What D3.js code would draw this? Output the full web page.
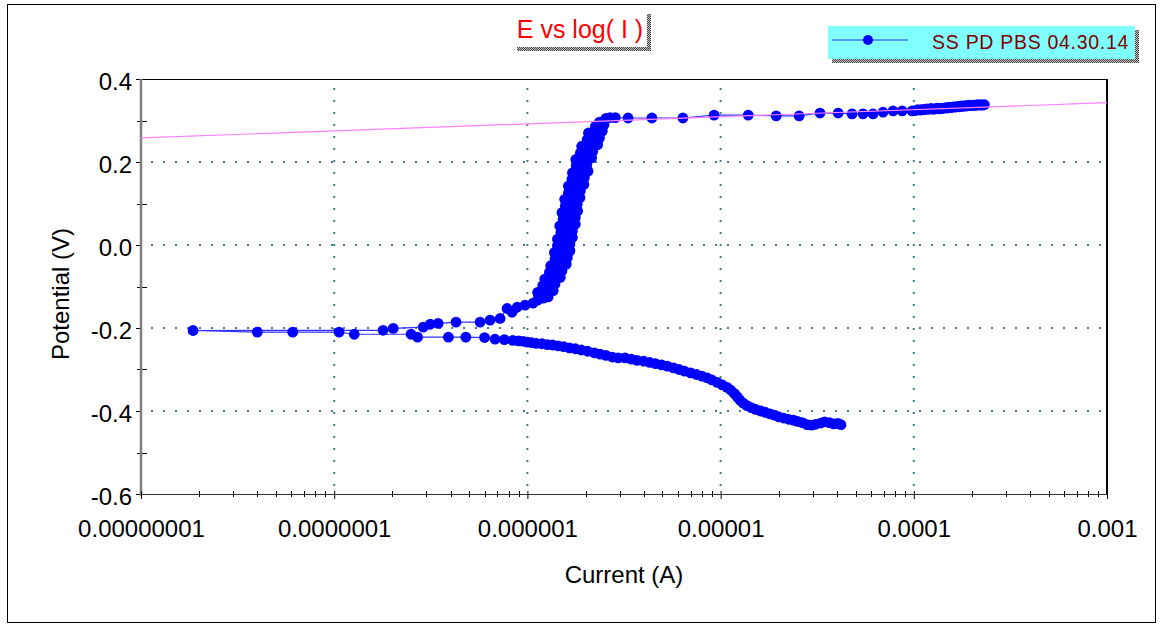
<!DOCTYPE html>
<html>
<head>
<meta charset="utf-8">
<script src="https://cdn.jsdelivr.net/npm/d3@7"></script>
<style>
  body { margin: 0; background: #fff; }
  svg { display: block; }
  text { font-family: Arial, "Liberation Sans", sans-serif; }
</style>
</head>
<body>
<svg id="chart" width="1160" height="627"></svg>
<script>
// ---- Potentiodynamic scan: cathodic branch (start of scan, high current down to Ecorr) ----
const cathodicCurrent = [
  4.20e-5, 4.05e-5, 3.85e-5, 3.65e-5, 3.45e-5, 3.30e-5, 3.10e-5, 2.95e-5, 2.80e-5, 2.65e-5,
  2.50e-5, 2.38e-5, 2.25e-5, 2.12e-5, 2.00e-5, 1.90e-5, 1.80e-5, 1.70e-5, 1.61e-5, 1.52e-5,
  1.44e-5, 1.37e-5, 1.31e-5, 1.26e-5, 1.22e-5, 1.18e-5, 1.13e-5, 1.08e-5, 1.02e-5, 9.6e-6,
  9.0e-6, 8.5e-6, 8.0e-6, 7.5e-6, 7.0e-6, 6.5e-6, 6.1e-6, 5.7e-6, 5.3e-6, 4.95e-6,
  4.6e-6, 4.3e-6, 4.0e-6, 3.7e-6, 3.45e-6, 3.2e-6, 2.95e-6, 2.75e-6, 2.55e-6, 2.38e-6,
  2.22e-6, 2.05e-6, 1.90e-6, 1.77e-6, 1.65e-6, 1.54e-6, 1.44e-6, 1.35e-6, 1.27e-6, 1.19e-6,
  1.11e-6, 1.05e-6, 1.00e-6, 9.5e-7, 9.0e-7, 8.4e-7, 7.6e-7, 6.8e-7, 6.0e-7, 4.8e-7,
  3.9e-7, 2.7e-7, 2.5e-7, 1.27e-7, 1.06e-7, 6.1e-8, 4.0e-8, 1.86e-8
];
const cathodicPotential = [
  -0.433, -0.430, -0.431, -0.428, -0.426, -0.429, -0.432, -0.434, -0.433, -0.428,
  -0.425, -0.422, -0.420, -0.417, -0.414, -0.410, -0.407, -0.403, -0.400, -0.396,
  -0.392, -0.387, -0.381, -0.374, -0.366, -0.358, -0.350, -0.343, -0.337, -0.331,
  -0.325, -0.320, -0.316, -0.312, -0.308, -0.304, -0.300, -0.296, -0.292, -0.289,
  -0.286, -0.283, -0.280, -0.278, -0.275, -0.272, -0.272, -0.270, -0.266, -0.263,
  -0.260, -0.256, -0.253, -0.250, -0.248, -0.245, -0.243, -0.241, -0.240, -0.238,
  -0.237, -0.235, -0.234, -0.232, -0.231, -0.230, -0.228, -0.227, -0.223, -0.222,
  -0.222, -0.222, -0.215, -0.215, -0.210, -0.210, -0.210, -0.206
];

// ---- Anodic branch near Ecorr ----
const anodicLowCurrent = [
  1.79e-7, 2.02e-7, 2.89e-7, 3.14e-7, 3.45e-7, 4.27e-7, 5.69e-7, 6.41e-7, 7.22e-7, 7.85e-7,
  8.33e-7, 8.85e-7, 9.73e-7, 1.07e-6, 1.13e-6, 1.21e-6
];
const anodicLowPotential = [
  -0.2055, -0.201, -0.198, -0.191, -0.189, -0.186, -0.186, -0.181, -0.177, -0.153,
  -0.162, -0.150, -0.145, -0.140, -0.133, -0.128
];

// ---- Anodic rise up to the breakdown potential ----
const anodicRiseCurrent = [
  1.28e-6, 1.14e-6, 1.24e-6, 1.13e-6, 1.36e-6, 1.22e-6, 1.32e-6, 1.20e-6, 1.39e-6, 1.24e-6,
  1.36e-6, 1.23e-6, 1.48e-6, 1.34e-6, 1.45e-6, 1.30e-6, 1.51e-6, 1.34e-6, 1.47e-6, 1.32e-6,
  1.59e-6, 1.43e-6, 1.54e-6, 1.39e-6, 1.61e-6, 1.41e-6, 1.54e-6, 1.38e-6, 1.66e-6, 1.48e-6,
  1.60e-6, 1.43e-6, 1.66e-6, 1.46e-6, 1.59e-6, 1.43e-6, 1.71e-6, 1.53e-6, 1.65e-6, 1.49e-6,
  1.71e-6, 1.51e-6, 1.65e-6, 1.47e-6, 1.77e-6, 1.58e-6, 1.71e-6, 1.53e-6, 1.77e-6, 1.55e-6,
  1.69e-6, 1.51e-6, 1.82e-6, 1.63e-6, 1.75e-6, 1.57e-6, 1.81e-6, 1.60e-6, 1.74e-6, 1.56e-6,
  1.87e-6, 1.68e-6, 1.81e-6, 1.63e-6, 1.88e-6, 1.66e-6, 1.82e-6, 1.63e-6, 1.96e-6, 1.76e-6,
  1.89e-6, 1.70e-6, 1.97e-6, 1.75e-6, 1.91e-6, 1.71e-6, 2.06e-6, 1.84e-6, 2.00e-6, 1.79e-6,
  2.03e-6, 1.80e-6, 1.98e-6, 1.78e-6, 2.15e-6, 1.93e-6, 2.09e-6, 1.88e-6, 2.18e-6, 1.94e-6,
  2.12e-6, 1.91e-6, 2.31e-6, 2.08e-6, 2.26e-6, 2.04e-6, 2.36e-6, 2.11e-6, 2.31e-6, 2.07e-6,
  2.44e-6, 2.25e-6, 2.44e-6, 2.25e-6, 2.49e-6, 2.36e-6, 2.53e-6, 2.55e-6, 2.68e-6, 2.85e-6
];
const anodicRisePotential = [
  -0.125, -0.121, -0.118, -0.114, -0.110, -0.106, -0.102, -0.098, -0.094, -0.090,
  -0.086, -0.082, -0.078, -0.074, -0.070, -0.066, -0.062, -0.058, -0.054, -0.050,
  -0.046, -0.042, -0.038, -0.034, -0.030, -0.026, -0.022, -0.018, -0.014, -0.010,
  -0.006, -0.002, 0.002, 0.006, 0.010, 0.014, 0.018, 0.022, 0.026, 0.030,
  0.034, 0.038, 0.042, 0.046, 0.050, 0.054, 0.058, 0.062, 0.066, 0.070,
  0.074, 0.078, 0.082, 0.086, 0.090, 0.094, 0.098, 0.102, 0.106, 0.110,
  0.114, 0.118, 0.122, 0.126, 0.130, 0.134, 0.138, 0.142, 0.146, 0.150,
  0.154, 0.158, 0.162, 0.166, 0.170, 0.174, 0.178, 0.182, 0.186, 0.190,
  0.194, 0.198, 0.202, 0.206, 0.210, 0.214, 0.218, 0.222, 0.226, 0.230,
  0.234, 0.238, 0.242, 0.246, 0.250, 0.254, 0.258, 0.262, 0.266, 0.270,
  0.274, 0.278, 0.282, 0.286, 0.290, 0.296, 0.302, 0.305, 0.307, 0.307
];

// ---- Pitting plateau above the breakdown potential ----
const plateauCurrent = [
  3.32e-6, 4.41e-6, 6.38e-6, 9.25e-6, 1.39e-5, 1.94e-5, 2.55e-5, 3.27e-5, 4.06e-5, 4.79e-5,
  5.46e-5, 6.15e-5, 6.93e-5, 7.81e-5, 8.71e-5, 9.80e-5, 1.02e-4, 1.05e-4, 1.08e-4, 1.11e-4,
  1.14e-4, 1.17e-4, 1.20e-4, 1.23e-4, 1.26e-4, 1.29e-4, 1.32e-4, 1.36e-4, 1.39e-4, 1.42e-4,
  1.46e-4, 1.49e-4, 1.53e-4, 1.56e-4, 1.60e-4, 1.64e-4, 1.68e-4, 1.72e-4, 1.76e-4, 1.80e-4,
  1.84e-4, 1.88e-4, 1.93e-4, 1.97e-4, 2.02e-4, 2.07e-4, 2.12e-4, 2.17e-4, 2.22e-4, 2.27e-4,
  2.32e-4
];
const plateauPotential = [
  0.306, 0.306, 0.306, 0.313, 0.313, 0.311, 0.311, 0.318, 0.318, 0.316,
  0.316, 0.316, 0.320, 0.323, 0.323, 0.323, 0.324, 0.326, 0.325, 0.327,
  0.326, 0.328, 0.327, 0.329, 0.327, 0.328, 0.330, 0.328, 0.330, 0.329,
  0.331, 0.330, 0.332, 0.331, 0.333, 0.332, 0.334, 0.333, 0.335, 0.334,
  0.336, 0.335, 0.337, 0.336, 0.337, 0.336, 0.338, 0.337, 0.338, 0.337,
  0.338
];

// ---- Tafel fit line ----
const fitCurrent = [1e-8, 1e-3];
const fitPotential = [0.258, 0.343];

// ---- Axis ticks and labels ----
const potentialTicks = [-0.6, -0.4, -0.2, 0.0, 0.2, 0.4];
const potentialMinorTicks = [-0.5, -0.3, -0.1, 0.1, 0.3];
const potentialGrid = [-0.4, -0.2, 0.0, 0.2];
const currentTicks = [1e-8, 1e-7, 1e-6, 1e-5, 1e-4, 1e-3];
const currentTickLabels = ["0.00000001", "0.0000001", "0.000001", "0.00001", "0.0001", "0.001"];
const currentGrid = [1e-7, 1e-6, 1e-5, 1e-4];
const minorMultipliers = [2, 3, 4, 5, 6, 7, 8, 9];

const chartTitle = "E vs log( I )";
const seriesName = "SS PD PBS 04.30.14";
const xAxisTitle = "Current (A)";
const yAxisTitle = "Potential (V)";

// ---- Build the series ----
const scanCurrent = [].concat(cathodicCurrent, anodicLowCurrent, anodicRiseCurrent, plateauCurrent);
const scanPotential = [].concat(cathodicPotential, anodicLowPotential, anodicRisePotential, plateauPotential);
const scan = scanCurrent.map((c, i) => ({ current: c, potential: scanPotential[i] }));
const fit = fitCurrent.map((c, i) => ({ current: c, potential: fitPotential[i] }));

const svg = d3.select("#chart");
const plot = { left: 141, right: 1107, top: 79, bottom: 494 };

const x = d3.scaleLog().domain([1e-8, 1e-3]).range([plot.left, plot.right]);
const y = d3.scaleLinear().domain([-0.6, 0.4]).range([plot.bottom, plot.top]);

// Dither pattern for the drop shadows of the title and legend boxes
const defs = svg.append("defs");
const pat = defs.append("pattern").attr("id", "dither")
  .attr("width", 2).attr("height", 2).attr("patternUnits", "userSpaceOnUse");
pat.append("rect").attr("width", 2).attr("height", 2).attr("fill", "#c8c8c8");
pat.append("rect").attr("width", 1).attr("height", 1).attr("fill", "#404040");
pat.append("rect").attr("x", 1).attr("y", 1).attr("width", 1).attr("height", 1).attr("fill", "#404040");

defs.append("clipPath").attr("id", "plotClip").append("rect")
  .attr("x", plot.left).attr("y", plot.top)
  .attr("width", plot.right - plot.left).attr("height", plot.bottom - plot.top);

// Outer frame
svg.append("rect").attr("x", 7.5).attr("y", 4.5).attr("width", 1148).attr("height", 618)
  .attr("fill", "#fff").attr("stroke", "#000").attr("stroke-width", 1);

// Grid (dotted)
const grid = svg.append("g").attr("stroke", "#408080").attr("stroke-width", 2)
  .attr("stroke-dasharray", "2 10");
grid.selectAll(".hg").data(potentialGrid).join("line")
  .attr("x1", plot.left + 10).attr("x2", plot.right)
  .attr("y1", d => y(d)).attr("y2", d => y(d));
grid.selectAll(".vg").data(currentGrid).join("line")
  .attr("x1", d => x(d)).attr("x2", d => x(d))
  .attr("y1", plot.bottom - 8).attr("y2", plot.top);

// Frame lines of the plot area
svg.append("line").attr("x1", plot.left).attr("x2", plot.right)
  .attr("y1", plot.top + 0.5).attr("y2", plot.top + 0.5).attr("stroke", "#000").attr("stroke-width", 1);
svg.append("line").attr("x1", plot.right).attr("x2", plot.right)
  .attr("y1", plot.top).attr("y2", plot.bottom).attr("stroke", "#000").attr("stroke-width", 2);

// Y axis
const yAxis = d3.axisLeft(y).tickValues(potentialTicks).tickSize(5).tickPadding(4)
  .tickFormat(d => d.toFixed(1));
const gy = svg.append("g").attr("transform", `translate(${plot.left},0)`).call(yAxis);
gy.select(".domain").remove();
gy.selectAll(".tick line").attr("stroke", "#000");
gy.selectAll(".tick text").attr("font-size", 24).attr("fill", "#000")
  .attr("font-family", "Arial, 'Liberation Sans', sans-serif").attr("dy", "0.42em");
svg.append("g").selectAll("line").data(potentialMinorTicks).join("line")
  .attr("x1", plot.left - 4).attr("x2", plot.left + 6)
  .attr("y1", d => Math.round(y(d)) + 0.5).attr("y2", d => Math.round(y(d)) + 0.5)
  .attr("stroke", "#000");
svg.append("line").attr("x1", plot.left).attr("x2", plot.left)
  .attr("y1", plot.top).attr("y2", plot.bottom + 2)
  .attr("stroke", "#808080").attr("stroke-width", 2.5);

// X axis
const xAxis = d3.axisBottom(x).tickValues(currentTicks).tickSize(5).tickPadding(21)
  .tickFormat((d, i) => currentTickLabels[i]);
const gx = svg.append("g").attr("transform", `translate(0,${plot.bottom})`).call(xAxis);
gx.select(".domain").remove();
gx.selectAll(".tick line").attr("stroke", "#000").attr("y1", -3);
gx.selectAll(".tick text").attr("font-size", 24).attr("fill", "#000")
  .attr("font-family", "Arial, 'Liberation Sans', sans-serif");
const minorX = [];
currentTicks.slice(0, -1).forEach(dec => minorMultipliers.forEach(m => minorX.push(dec * m)));
svg.append("g").selectAll("line").data(minorX).join("line")
  .attr("x1", d => Math.round(x(d)) + 0.5).attr("x2", d => Math.round(x(d)) + 0.5)
  .attr("y1", plot.bottom - 3).attr("y2", plot.bottom + 3).attr("stroke", "#000");
svg.append("line").attr("x1", plot.left).attr("x2", plot.right)
  .attr("y1", plot.bottom + 0.5).attr("y2", plot.bottom + 0.5)
  .attr("stroke", "#333").attr("stroke-width", 1.2);

// Axis titles
svg.append("text").attr("x", 624).attr("y", 583).attr("text-anchor", "middle")
  .attr("font-size", 24).attr("fill", "#000").text(xAxisTitle);
svg.append("text").attr("transform", "translate(69,294) rotate(-90)").attr("text-anchor", "middle")
  .attr("font-size", 24).attr("fill", "#000").text(yAxisTitle);

// Data: connecting line, markers, then fit line on top
const body = svg.append("g").attr("clip-path", "url(#plotClip)");
const line = d3.line().x(d => x(d.current)).y(d => y(d.potential));
body.append("path").datum(scan).attr("d", line)
  .attr("fill", "none").attr("stroke", "#3030ff").attr("stroke-width", 1.2);
body.selectAll("circle").data(scan).join("circle")
  .attr("cx", d => x(d.current)).attr("cy", d => y(d.potential)).attr("r", 5.4)
  .attr("fill", "#0000ff");
body.append("path").datum(fit).attr("d", line)
  .attr("fill", "none").attr("stroke", "#ff80ff").attr("stroke-width", 1.2);

// Title box
const tb = { x: 513, y: 10, w: 134, h: 37 };
svg.append("rect").attr("x", tb.x + 4).attr("y", tb.y + 4).attr("width", tb.w).attr("height", tb.h)
  .attr("fill", "url(#dither)");
svg.append("rect").attr("x", tb.x).attr("y", tb.y).attr("width", tb.w).attr("height", tb.h)
  .attr("fill", "#fff");
svg.append("text").attr("x", tb.x + tb.w / 2).attr("y", 38).attr("text-anchor", "middle")
  .attr("font-size", 25).attr("fill", "#ff0000").text(chartTitle);

// Legend box
const lb = { x: 828, y: 26, w: 307, h: 33 };
svg.append("rect").attr("x", lb.x + 4).attr("y", lb.y + 4).attr("width", lb.w).attr("height", lb.h)
  .attr("fill", "url(#dither)");
svg.append("rect").attr("x", lb.x).attr("y", lb.y).attr("width", lb.w).attr("height", lb.h)
  .attr("fill", "#80ffff");
svg.append("line").attr("x1", lb.x + 4).attr("x2", lb.x + 80).attr("y1", 40).attr("y2", 40)
  .attr("stroke", "#3030ff").attr("stroke-width", 1.2);
svg.append("circle").attr("cx", lb.x + 40).attr("cy", 40).attr("r", 5).attr("fill", "#0000ff");
svg.append("text").attr("x", 1129).attr("y", 49).attr("text-anchor", "end")
  .attr("font-size", 19.5).attr("letter-spacing", "0.7px").attr("fill", "#800000").text(seriesName);
</script>
</body>
</html>
